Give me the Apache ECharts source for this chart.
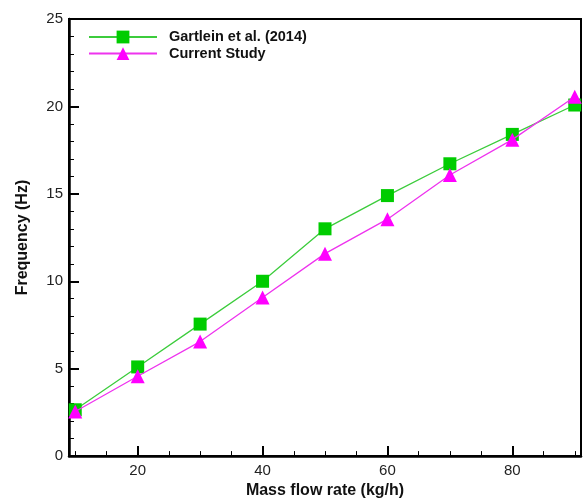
<!DOCTYPE html>
<html>
<head>
<meta charset="utf-8">
<script src="https://cdn.jsdelivr.net/npm/echarts@6/dist/echarts.min.js"></script>
<style>
  html, body { margin: 0; padding: 0; background: #fff; }
  #chart { width: 583px; height: 504px; }
</style>
</head>
<body>
<div id="chart"></div>
<script>
// Mass flow rate (kg/h) and measured / computed frequency (Hz)
const massFlow = [10, 20, 30, 40, 50, 60, 70, 80, 90];
const gartlein = [2.65, 5.1, 7.55, 10.0, 13.0, 14.9, 16.72, 18.4, 20.08];
const currentStudy = [2.55, 4.57, 6.55, 9.07, 11.58, 13.55, 16.08, 18.1, 20.55];

const xMajorTicks = [20, 40, 60, 80];
const xMinorTicks = [10, 15, 25, 30, 35, 45, 50, 55, 65, 70, 75, 85, 90];

const FONT = '"Liberation Sans", Arial, sans-serif';
const X_MIN = 9, X_MAX = 91;

const chart = echarts.init(document.getElementById('chart'));
chart.setOption({
  animation: false,
  backgroundColor: '#fff',
  grid: {
    left: 69, right: 2, top: 19, bottom: 43,
    show: true, borderColor: '#000', borderWidth: 2,
    backgroundColor: 'transparent'
  },
  legend: {
    left: 83, top: 24,
    orient: 'vertical',
    itemWidth: 68, itemHeight: 16, itemGap: 0.6, itemTextGap: 10,
    textStyle: {
      fontFamily: FONT, fontWeight: 'bold', fontSize: 14.5, color: '#111',
      lineHeight: 16, padding: [0, 0, 0, 7]
    },
    data: ['Gartlein et al. (2014)', 'Current Study']
  },
  xAxis: [
    {
      type: 'value', min: X_MIN, max: X_MAX,
      name: 'Mass flow rate (kg/h)', nameLocation: 'middle', nameGap: 25,
      nameTextStyle: { fontFamily: FONT, fontWeight: 'bold', fontSize: 16, color: '#111' },
      axisLine: { show: true, onZero: false, lineStyle: { color: '#000', width: 2.5 } },
      axisTick: { show: true, inside: true, length: 10, customValues: xMajorTicks, lineStyle: { color: '#000', width: 2 } },
      axisLabel: { show: true, margin: 7, customValues: xMajorTicks, fontFamily: FONT, fontSize: 15, color: '#222' },
      splitLine: { show: false }
    },
    {
      type: 'value', min: X_MIN, max: X_MAX, position: 'bottom',
      axisLine: { show: false },
      axisTick: { show: true, inside: true, length: 5, customValues: xMinorTicks, lineStyle: { color: '#000', width: 1 } },
      axisLabel: { show: false },
      splitLine: { show: false }
    }
  ],
  yAxis: {
    type: 'value', min: 0, max: 25, interval: 5,
    name: 'Frequency (Hz)', nameLocation: 'middle', nameGap: 38,
    nameTextStyle: { fontFamily: FONT, fontWeight: 'bold', fontSize: 16, color: '#111' },
    axisLine: { show: true, lineStyle: { color: '#000', width: 2.5 } },
    axisTick: { show: true, inside: true, length: 10, lineStyle: { color: '#000', width: 2 } },
    minorTick: { show: true, splitNumber: 5, length: 5, lineStyle: { color: '#000', width: 1 } },
    axisLabel: { margin: 6, fontFamily: FONT, fontSize: 15, color: '#222' },
    splitLine: { show: false }
  },
  series: [
    {
      name: 'Gartlein et al. (2014)',
      type: 'line',
      xAxisIndex: 0,
      data: massFlow.map((x, i) => [x, gartlein[i]]),
      symbol: 'rect', symbolSize: 13,
      itemStyle: { color: '#00cc00' },
      lineStyle: { color: '#3ccc3c', width: 1.3 },
      z: 2
    },
    {
      name: 'Current Study',
      type: 'line',
      xAxisIndex: 0,
      data: massFlow.map((x, i) => [x, currentStudy[i]]),
      symbol: 'triangle', symbolSize: 14,
      itemStyle: { color: '#ff00ff' },
      lineStyle: { color: '#ee33ee', width: 1.3 },
      z: 3
    }
  ]
});
</script>
</body>
</html>
